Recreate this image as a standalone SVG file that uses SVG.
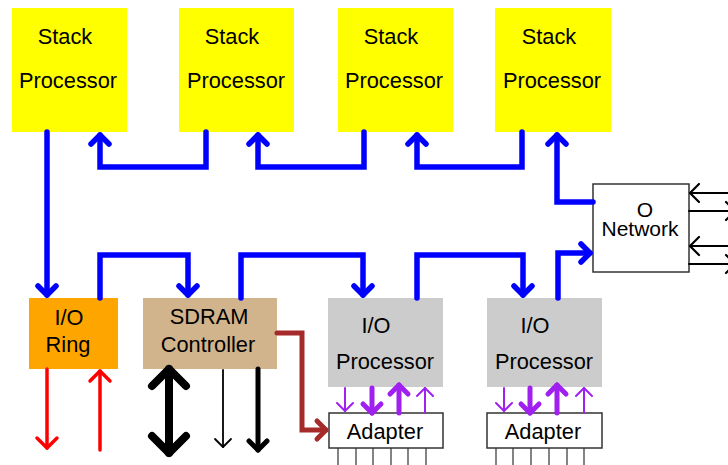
<svg xmlns="http://www.w3.org/2000/svg" width="728" height="465" viewBox="0 0 728 465">
  <defs>
    <style>
      text { font-family: "Liberation Sans", Arial, Helvetica, sans-serif; font-size: 21.8px; fill: #000; text-anchor: middle; }
      .net { font-size: 21px; }
      .stack { fill: #ffff00; }
      .ring { fill: #ffa500; }
      .sdram { fill: #d2b48c; }
      .iop { fill: #cccccc; }
      .outline { fill: #fff; stroke: #333; stroke-width: 1.5; }
      .wire { fill: none; stroke-linecap: round; stroke-linejoin: miter; }
      .blue { stroke: #0000ff; stroke-width: 5.5; }
      .red { stroke: #ff0000; stroke-width: 3.5; }
      .brown { stroke: #a52a2a; stroke-width: 5; }
      .blk1 { stroke: #000; stroke-width: 1.8; }
      .blk2 { stroke: #000; stroke-width: 2; }
      .blk5 { stroke: #000; stroke-width: 5; }
      .blk8 { stroke: #000; stroke-width: 8; }
      .pur2 { stroke: #a020f0; stroke-width: 2; }
      .pur5 { stroke: #a020f0; stroke-width: 5; }
      .pin { stroke: #333; stroke-width: 1.2; }
      .head { fill: none; stroke-linecap: round; stroke-linejoin: round; }
    </style>
    <marker id="hBlue" markerUnits="userSpaceOnUse" orient="auto" refX="0" refY="0" markerWidth="40" markerHeight="40" viewBox="-20 -20 40 40" overflow="visible">
      <path class="head" d="M-9,-9 L0,0 L-9,9" stroke="#0000ff" stroke-width="5.5"/>
    </marker>
    <marker id="hRed" markerUnits="userSpaceOnUse" orient="auto" refX="0" refY="0" markerWidth="40" markerHeight="40" viewBox="-20 -20 40 40" overflow="visible">
      <path class="head" d="M-10,-10 L0,0 L-10,10" stroke="#ff0000" stroke-width="3.5"/>
    </marker>
    <marker id="hBrown" markerUnits="userSpaceOnUse" orient="auto" refX="0" refY="0" markerWidth="40" markerHeight="40" viewBox="-20 -20 40 40" overflow="visible">
      <path class="head" d="M-9,-9 L0,0 L-9,9" stroke="#a52a2a" stroke-width="5"/>
    </marker>
    <marker id="hBlk1" markerUnits="userSpaceOnUse" orient="auto" refX="0" refY="0" markerWidth="40" markerHeight="40" viewBox="-20 -20 40 40" overflow="visible">
      <path class="head" d="M-8,-8 L0,0 L-8,8" stroke="#000" stroke-width="1.8"/>
    </marker>
    <marker id="hBlk2" markerUnits="userSpaceOnUse" orient="auto" refX="0" refY="0" markerWidth="40" markerHeight="40" viewBox="-20 -20 40 40" overflow="visible">
      <path class="head" d="M-9,-9 L0,0 L-9,9" stroke="#000" stroke-width="2.2"/>
    </marker>
    <marker id="hBlk5" markerUnits="userSpaceOnUse" orient="auto" refX="0" refY="0" markerWidth="40" markerHeight="40" viewBox="-20 -20 40 40" overflow="visible">
      <path class="head" d="M-9,-9 L0,0 L-9,9" stroke="#000" stroke-width="5"/>
    </marker>
    <marker id="hBlk8" markerUnits="userSpaceOnUse" orient="auto-start-reverse" refX="0" refY="0" markerWidth="60" markerHeight="60" viewBox="-30 -30 60 60" overflow="visible">
      <path class="head" d="M-17,-17 L0,0 L-17,17" stroke="#000" stroke-width="8"/>
    </marker>
    <marker id="hPur2" markerUnits="userSpaceOnUse" orient="auto" refX="0" refY="0" markerWidth="40" markerHeight="40" viewBox="-20 -20 40 40" overflow="visible">
      <path class="head" d="M-8,-8 L0,0 L-8,8" stroke="#a020f0" stroke-width="2"/>
    </marker>
    <marker id="hPur5" markerUnits="userSpaceOnUse" orient="auto" refX="0" refY="0" markerWidth="40" markerHeight="40" viewBox="-20 -20 40 40" overflow="visible">
      <path class="head" d="M-9,-9 L0,0 L-9,9" stroke="#a020f0" stroke-width="5"/>
    </marker>
  </defs>

  <rect width="728" height="465" fill="#fff"/>

  <!-- Stack processors -->
  <g id="stack1">
    <rect class="stack" x="12" y="8" width="115" height="124"/>
    <text x="65" y="44">Stack</text>
    <text x="68" y="88">Processor</text>
  </g>
  <g id="stack2">
    <rect class="stack" x="179" y="8" width="115" height="124"/>
    <text x="232" y="44">Stack</text>
    <text x="236" y="88">Processor</text>
  </g>
  <g id="stack3">
    <rect class="stack" x="338" y="8" width="115" height="124"/>
    <text x="391" y="44">Stack</text>
    <text x="394" y="88">Processor</text>
  </g>
  <g id="stack4">
    <rect class="stack" x="495" y="8" width="116" height="124"/>
    <text x="549" y="44">Stack</text>
    <text x="552" y="88">Processor</text>
  </g>

  <!-- Network -->
  <g id="network">
    <rect class="outline" x="593" y="184" width="96" height="88"/>
    <text class="net" x="645" y="217">O</text>
    <text class="net" x="640" y="236">Network</text>
  </g>

  <!-- I/O ring -->
  <g id="io-ring">
    <rect class="ring" x="29" y="298" width="89" height="71"/>
    <text x="69" y="325">I/O</text>
    <text x="68" y="352">Ring</text>
  </g>

  <!-- SDRAM controller -->
  <g id="sdram">
    <rect class="sdram" x="143" y="298" width="134" height="71"/>
    <text x="209" y="324">SDRAM</text>
    <text x="208" y="352">Controller</text>
  </g>

  <!-- I/O processors -->
  <g id="iop1">
    <rect class="iop" x="328" y="298" width="115" height="89"/>
    <text x="376" y="333">I/O</text>
    <text x="385" y="369">Processor</text>
  </g>
  <g id="iop2">
    <rect class="iop" x="487" y="298" width="115" height="89"/>
    <text x="535" y="333">I/O</text>
    <text x="544" y="369">Processor</text>
  </g>

  <!-- Adapters -->
  <g id="adapter1">
    <rect class="outline" x="329" y="413" width="114" height="35"/>
    <text x="385" y="439">Adapter</text>
  </g>
  <g id="adapter2">
    <rect class="outline" x="487" y="413" width="115" height="35"/>
    <text x="543" y="439">Adapter</text>
  </g>

  <g id="connectors">
    <!-- processor chain -->
    <path class="wire blue" d="M47,132 V295" marker-end="url(#hBlue)"/>
    <path class="wire blue" d="M206,132 V167 H100 V135" marker-end="url(#hBlue)"/>
    <path class="wire blue" d="M364,132 V167 H258 V135" marker-end="url(#hBlue)"/>
    <path class="wire blue" d="M522,132 V167 H417 V135" marker-end="url(#hBlue)"/>
    <path class="wire blue" d="M593,202 H557 V135" marker-end="url(#hBlue)"/>
    <path class="wire blue" d="M100,298 V255 H188 V295" marker-end="url(#hBlue)"/>
    <path class="wire blue" d="M241,298 V255 H363 V295" marker-end="url(#hBlue)"/>
    <path class="wire blue" d="M417,298 V255 H523 V295" marker-end="url(#hBlue)"/>
    <path class="wire blue" d="M558,298 V253 H590" marker-end="url(#hBlue)"/>

    <!-- network links -->
    <path class="wire blk2" d="M740,193 H690" marker-end="url(#hBlk2)"/>
    <path class="wire blk2" d="M689,211 H735" marker-end="url(#hBlk2)"/>
    <path class="wire blk2" d="M740,246 H690" marker-end="url(#hBlk2)"/>
    <path class="wire blk2" d="M689,264 H735" marker-end="url(#hBlk2)"/>

    <!-- I/O ring pins -->
    <path class="wire red" d="M47,369 V448" marker-end="url(#hRed)"/>
    <path class="wire red" d="M100,450 V371" marker-end="url(#hRed)"/>

    <!-- SDRAM lines -->
    <path class="wire blk8" d="M169,369 V453" marker-start="url(#hBlk8)" marker-end="url(#hBlk8)"/>
    <path class="wire blk1" d="M223,370 V447" marker-end="url(#hBlk1)"/>
    <path class="wire blk5" d="M258,369 V450" marker-end="url(#hBlk5)"/>
    <path class="wire brown" d="M277,333 H302 V430 H326" marker-end="url(#hBrown)"/>

    <!-- processor to adapter -->
    <path class="wire pur2" d="M345,388 V411" marker-end="url(#hPur2)"/>
    <path class="wire pur5" d="M372,388 V413" marker-end="url(#hPur5)"/>
    <path class="wire pur5" d="M399,413 V385" marker-end="url(#hPur5)"/>
    <path class="wire pur2" d="M425,413 V388" marker-end="url(#hPur2)"/>
    <path class="wire pur2" d="M504,388 V411" marker-end="url(#hPur2)"/>
    <path class="wire pur5" d="M530,388 V413" marker-end="url(#hPur5)"/>
    <path class="wire pur5" d="M557,413 V385" marker-end="url(#hPur5)"/>
    <path class="wire pur2" d="M584,413 V388" marker-end="url(#hPur2)"/>

    <!-- adapter pins -->
    <path class="pin" d="M338,448 V465 M356,448 V465 M373,448 V465 M391,448 V465 M408,448 V465 M426,448 V465"/>
    <path class="pin" d="M496,448 V465 M513,448 V465 M531,448 V465 M549,448 V465 M567,448 V465 M584,448 V465"/>
  </g>
</svg>
